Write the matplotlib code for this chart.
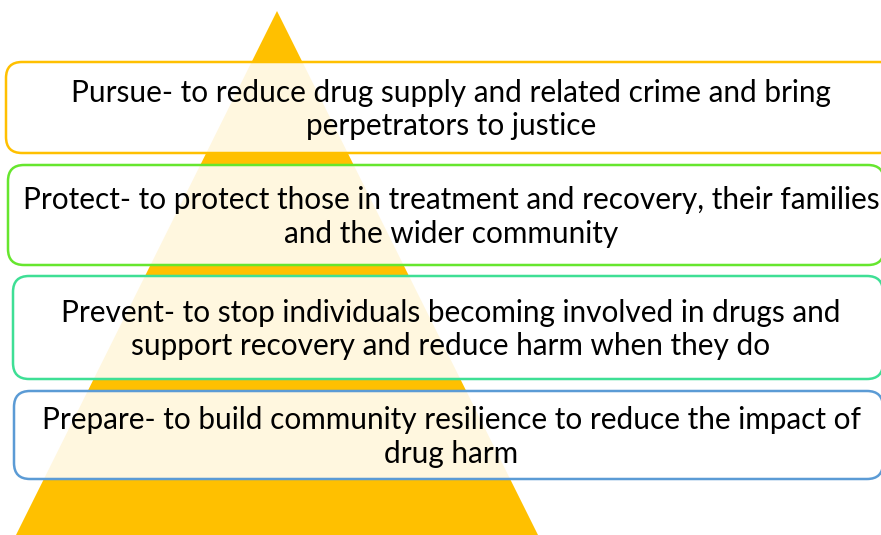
import matplotlib.pyplot as plt
from matplotlib.patches import Polygon, FancyBboxPatch

# pyramid corners (pixels, y down)
apex = (277, 11)
base_left = (16, 535)
base_right = (538, 535)

labels = [
    "Pursue- to reduce drug supply and related crime and bring\nperpetrators to justice",
    "Protect- to protect those in treatment and recovery, their families\nand the wider community",
    "Prevent- to stop individuals becoming involved in drugs and\nsupport recovery and reduce harm when they do",
    "Prepare- to build community resilience to reduce the impact of\ndrug harm",
]
edge_colors = ["#FFC000", "#66E62E", "#3EDF95", "#5B9BD5"]
box_left = [6, 8, 13, 14]
box_right = [895, 884, 883, 883]
box_top = [62, 165, 276, 391]
box_bottom = [153, 265, 379, 479]

fig = plt.figure(figsize=(8.81, 5.35), dpi=100)
ax = fig.add_axes([0, 0, 1, 1])
ax.set_xlim(0, 881)
ax.set_ylim(535, 0)
ax.axis("off")

ax.add_patch(Polygon([apex, base_left, base_right], closed=True,
                     facecolor="#FFC000", edgecolor="none", zorder=1))

for i in range(len(labels)):
    x0, x1 = box_left[i], box_right[i]
    y0, y1 = box_top[i], box_bottom[i]
    box = FancyBboxPatch((x0, y0), x1 - x0, y1 - y0,
                         boxstyle="round,pad=0,rounding_size=16",
                         facecolor=(1, 1, 1, 0.88), edgecolor=edge_colors[i],
                         linewidth=1.8, zorder=2)
    ax.add_patch(box)
    ax.text(451, (y0 + y1) / 2 + 2, labels[i], ha="center", va="center",
            fontsize=21.4, family="Lato", color="black",
            linespacing=1.22, zorder=3)

fig.savefig("out.png", dpi=100)
